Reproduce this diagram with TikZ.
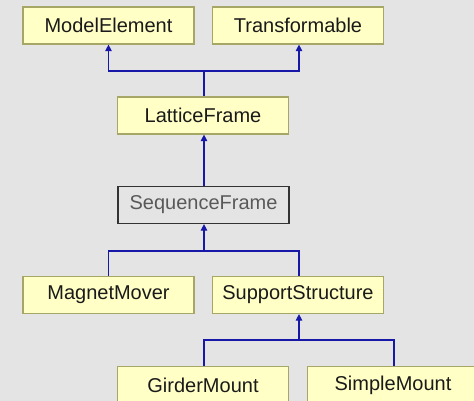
\documentclass[tikz,border=0pt]{standalone}
\usepackage{fontspec}
\setmainfont{Liberation Sans}
\usetikzlibrary{arrows.meta}
\definecolor{bgcol}{HTML}{E4E4E4}
\definecolor{boxfill}{HTML}{FFFFC6}
\definecolor{boxline}{HTML}{A6A666}
\definecolor{linkcol}{HTML}{1818A8}
\definecolor{textcol}{HTML}{1A1A1A}
\tikzset{
  classbox/.style={draw=boxline, fill=boxfill, line width=1.2pt,
    minimum width=171pt, minimum height=37pt, inner sep=0pt,
    text=textcol, font=\fontsize{20}{22}\selectfont},
  focusbox/.style={classbox, draw=black!80, fill=bgcol, text=black!65},
  link/.style={draw=linkcol, line width=1.2pt},
  inherit/.style={link, -{Triangle[width=6.5pt,length=6.5pt]}},
}
\begin{document}
\begin{tikzpicture}[x=1pt, y=-1pt]
  \fill[bgcol] (0,0) rectangle (474,401);
  \useasboundingbox (0,0) rectangle (474,401);
  \clip (0,0) rectangle (474,401);

  % classes
  \node[classbox] (me) at (108.5,25.5) {ModelElement};
  \node[classbox] (tr) at (298,25.5) {Transformable};
  \node[classbox] (lf) at (203,115.5) {LatticeFrame};
  \node[focusbox] (sf) at (203.5,205) {SequenceFrame};
  \node[classbox] (mm) at (108.5,295) {MagnetMover};
  \node[classbox] (ss) at (298,295) {SupportStructure};
  \node[classbox] (gm) at (203,385) {GirderMount};
  \node[classbox] (sm) at (393,385) {SimpleMount};

  % junction points of the inheritance trees
  \coordinate (j1) at (204,71);
  \coordinate (j2) at (204,251);
  \coordinate (j3) at (299,340);

  % LatticeFrame inherits from ModelElement and Transformable
  \draw[link] (j1) -- (j1 |- lf.north);
  \draw[inherit] (j1) -| (me.south);
  \draw[inherit] (j1) -| ([xshift=1pt]tr.south);

  % SequenceFrame inherits from LatticeFrame
  \draw[inherit] (sf.north -| j1) -- (lf.south -| j1);

  % children of SequenceFrame
  \draw[inherit] (j2) -- (sf.south -| j2);
  \draw[link] (j2) -| (mm.north);
  \draw[link] (j2) -| ([xshift=1pt]ss.north);

  % children of SupportStructure
  \draw[inherit] (j3) -- (ss.south -| j3);
  \draw[link] (j3) -| ([xshift=1pt]gm.north);
  \draw[link] (j3) -| ([xshift=1pt]sm.north);
\end{tikzpicture}
\end{document}
